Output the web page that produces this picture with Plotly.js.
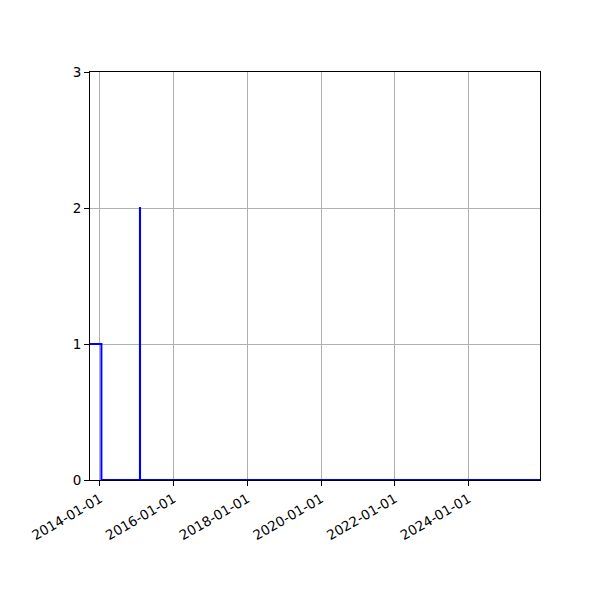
<!DOCTYPE html>
<html>
<head>
<meta charset="utf-8">
<script src="https://cdn.plot.ly/plotly-3.0.1.min.js"></script>
<style>
    html, body { margin: 0; padding: 0; background: #fff; }
    #chart { width: 600px; height: 600px; }
</style>
</head>
<body>
<div id="chart"></div>
<script>
// Step series
const stepDates = ['2013-09-24', '2014-01-15', '2015-02-01', '2015-02-02', '2025-12-10'];
const stepValues = [1, 0, 2, 0, 0];

const xRange = ['2013-09-24', '2025-12-10'];
const yTicks = [0, 1, 2, 3];

const axisCommon = {
    showline: true,
    linecolor: '#000',
    linewidth: 1,
    mirror: true,
    ticks: 'outside',
    ticklen: 5,
    tickcolor: '#000',
    showgrid: true,
    gridcolor: '#b0b0b0',
    gridwidth: 1,
    zeroline: false
};

Plotly.newPlot('chart', [{
    type: 'scatter',
    mode: 'lines',
    x: stepDates,
    y: stepValues,
    line: { color: '#0000ff', width: 2, shape: 'hv' },
    showlegend: false
}], {
    width: 600,
    height: 600,
    paper_bgcolor: '#fff',
    plot_bgcolor: '#fff',
    font: { family: 'DejaVu Sans', color: '#000', size: 13.5 },
    margin: { l: 90, r: 60, t: 72, b: 120 },
    xaxis: Object.assign({}, axisCommon, {
        type: 'date',
        range: xRange,
        tick0: '2014-01-01',
        dtick: 'M24',
        tickformat: '%Y-%m-%d',
        tickangle: -30
    }),
    yaxis: Object.assign({}, axisCommon, {
        range: [0, 3],
        tickvals: yTicks
    })
}, { displayModeBar: false });
</script>
</body>
</html>
